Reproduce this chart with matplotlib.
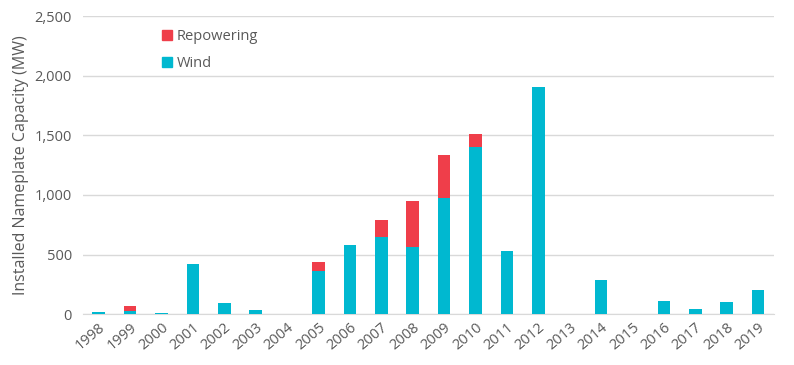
import numpy as np
import matplotlib
matplotlib.use('Agg')
import matplotlib.pyplot as plt
from matplotlib.patches import Patch

plt.rcParams['font.family'] = ['Open Sans', 'DejaVu Sans']

years = ['1998', '1999', '2000', '2001', '2002', '2003', '2004', '2005', '2006', '2007', '2008',
         '2009', '2010', '2011', '2012', '2013', '2014', '2015', '2016', '2017', '2018', '2019']
wind = [20, 30, 10, 420, 95, 35, 0, 365, 580, 647, 564,
        977, 1401, 530, 1904, 0, 285, 0, 109, 42, 100, 201]
repowering = [0, 40, 0, 0, 0, 0, 0, 73, 0, 143, 385,
              357, 109, 0, 0, 0, 0, 0, 0, 0, 0, 0]

wind_color = '#00B8D0'
repower_color = '#EF3E4A'
text_color = '#595959'

fig = plt.figure(figsize=(7.94, 3.65), dpi=100)
ax = fig.add_axes([0.1045, 0.139, 0.87, 0.817])

x = np.arange(len(years))
ax.bar(x, wind, width=0.4, color=wind_color, zorder=3)
ax.bar(x, repowering, width=0.4, bottom=wind, color=repower_color, zorder=3)

ax.set_xlim(-0.5, len(years) - 0.5)
ax.set_ylim(0, 2500)
ax.set_yticks(range(0, 2501, 500))
ax.set_yticklabels(['{:,}'.format(v) for v in range(0, 2501, 500)])
ax.set_xticks(x)
ax.set_xticklabels(years, rotation=40, ha='right', rotation_mode='anchor')

ax.grid(axis='y', color='#D9D9D9', linewidth=1, zorder=0)
for s in ['top', 'right', 'left']:
    ax.spines[s].set_visible(False)
ax.spines['bottom'].set_color('#D9D9D9')
ax.tick_params(axis='both', length=0, colors=text_color, labelsize=10.5)
ax.tick_params(axis='y', pad=8)
ax.tick_params(axis='x', pad=4)

ax.set_ylabel('Installed Nameplate Capacity (MW)', color=text_color, fontsize=11.5)

handles = [Patch(color=repower_color, label='Repowering'),
           Patch(color=wind_color, label='Wind')]
ax.legend(handles=handles, loc='upper left', bbox_to_anchor=(0.095, 1.0), frameon=False,
          fontsize=10.5, labelcolor=text_color, handlelength=0.7, handleheight=0.7,
          handletextpad=0.3, labelspacing=0.8)

fig.savefig('out.png', dpi=100)
